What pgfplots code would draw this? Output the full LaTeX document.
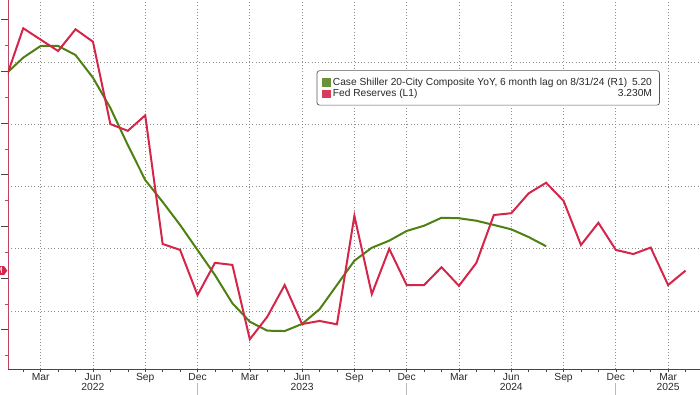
\documentclass[border=0pt]{standalone}
\usepackage{pgfplots}
\pgfplotsset{compat=1.18}
\usetikzlibrary{shapes.symbols}
\usepackage{fontspec}
\setmainfont{Liberation Sans}
\definecolor{fedred}{RGB}{212,38,74}
\definecolor{csgreen}{RGB}{78,128,18}
\definecolor{gridgray}{RGB}{140,140,140}
\definecolor{axred}{RGB}{190,70,100}
\definecolor{axgray}{RGB}{70,70,70}
\definecolor{txt}{RGB}{40,40,40}

\begin{document}
\begin{tikzpicture}[x=1pt,y=1pt]
\pgfplotsset{
  base/.style={
    at={(8pt,25pt)}, anchor=south west,
    width=692pt, height=369pt, scale only axis,
    xmin=0.126, xmax=39.83,
    clip mode=individual,
  },
}
% Axis A: Case-Shiller (right axis), grids, x axis
\begin{axis}[base,
  ymin=-4.659, ymax=24.98,
  axis x line*=bottom, axis y line*=right,
  x axis line style={draw=axgray, line width=0.8pt, -},
  y axis line style={draw=none},
  ytick={0,5,10,15,20}, yticklabels={}, ytick style={draw=none},
  xtick={2,5,8,11,14,17,20,23,26,29,32,35,38},
  xticklabels={Mar,Jun,Sep,Dec,Mar,Jun,Sep,Dec,Mar,Jun,Sep,Dec,Mar},
  minor xtick={1,2,...,39},
  tick align=outside,
  major tick length=3pt, minor tick length=3pt,
  xtick style={draw=axgray, line width=0.6pt},
  xmajorgrids, ymajorgrids,
  grid style={gridgray, line width=0.7pt, dash pattern=on 0.7pt off 2.6pt},
  xticklabel style={font=\fontsize{10.3}{12}\selectfont, text=txt, inner sep=0pt, anchor=north, yshift=-1pt},
  extra x ticks={5,17,29,38},
  extra x tick labels={2022,2023,2024,2025},
  extra x tick style={grid=none, tick style={draw=none}, xticklabel style={yshift=-10.5pt}},
]
\addplot[csgreen, line width=2pt] coordinates {
(0,19.04)(1,20.35)(2,21.29)(3,21.29)(4,20.56)(5,18.74)(6,16.31)(7,13.33)(8,10.52)(9,8.76)
(10,6.91)(11,4.90)(12,2.89)(13,0.62)(14,-0.86)(15,-1.58)(16,-1.61)(17,-1.04)(18,0.14)(19,2.09)
(20,4.04)(21,5.08)(22,5.65)(23,6.43)(24,6.85)(25,7.49)(26,7.45)(27,7.25)(28,6.91)(29,6.56)
(30,5.94)(31,5.20)};
\draw[gray!55, line width=0.8pt] ([yshift=-14pt]axis cs:11,-4.659) -- ([yshift=-26pt]axis cs:11,-4.659);
\draw[gray!55, line width=0.8pt] ([yshift=-14pt]axis cs:23,-4.659) -- ([yshift=-26pt]axis cs:23,-4.659);
\draw[gray!55, line width=0.8pt] ([yshift=-14pt]axis cs:35,-4.659) -- ([yshift=-26pt]axis cs:35,-4.659);
\end{axis}
% Axis B: Fed Reserves (left axis)
\begin{axis}[base,
  ymin=2.849, ymax=4.2774,
  hide x axis,
  axis y line*=left,
  y axis line style={draw=axred, line width=0.8pt, -},
  ytick={3.0,3.2,3.4,3.6,3.8,4.0,4.2},
  yticklabels={},
  minor ytick={2.9,3.1,3.3,3.5,3.7,3.9,4.1},
  tick align=outside,
  major tick length=7pt, minor tick length=3pt,
  major tick style={draw=axgray, line width=1pt},
  minor tick style={draw=axred, line width=0.8pt},
  legend style={at={(axis description cs:0.4461,0.8095)}, anchor=north west,
    draw=black!65, rounded corners=2.5pt, line width=0.7pt, fill=white,
    font=\fontsize{10.2}{11.7}\selectfont, text=txt,
    inner xsep=5pt, inner ysep=6pt, row sep=0.5pt,
    nodes={inner xsep=2.5pt, inner ysep=0.5pt, text height=8pt, text depth=2pt}},
  legend cell align=left,
]
\addlegendimage{legend image code/.code={\fill[sharp corners, csgreen!85!white] (0pt,-4pt) rectangle (7.7pt,3.7pt);}}
\addlegendentry{\makebox[319pt][l]{Case Shiller 20-City Composite YoY, 6 month lag on 8/31/24 (R1)\hfill 5.20}}
\addlegendimage{legend image code/.code={\fill[sharp corners, fedred!90!white] (0pt,-4pt) rectangle (7.7pt,3.7pt);}}
\addlegendentry{\makebox[319pt][l]{Fed Reserves (L1)\hfill 3.230M}}
\addplot[fedred, line width=2pt, forget plot] coordinates {
(0,3.972)(1,4.168)(2,4.124)(3,4.080)(4,4.164)(5,4.116)(6,3.797)(7,3.771)(8,3.831)(9,3.333)
(10,3.310)(11,3.135)(12,3.260)(13,3.252)(14,2.964)(15,3.051)(16,3.174)(17,3.023)(18,3.035)(19,3.022)
(20,3.442)(21,3.139)(22,3.314)(23,3.174)(24,3.174)(25,3.243)(26,3.171)(27,3.260)(28,3.445)(29,3.452)
(30,3.529)(31,3.570)(32,3.500)(33,3.329)(34,3.415)(35,3.310)(36,3.294)(37,3.319)(38,3.174)(39,3.230)};
\node[signal, signal to=east, signal pointer angle=110, fill=fedred, text=white,
  font=\fontsize{9}{10}\selectfont, inner sep=1.2pt, anchor=east] at ([xshift=-0.5pt]axis cs:0.126,3.230) {3.230M};
\end{axis}
\pgfresetboundingbox
\useasboundingbox (0,0) rectangle (700,394);
\end{tikzpicture}
\end{document}
